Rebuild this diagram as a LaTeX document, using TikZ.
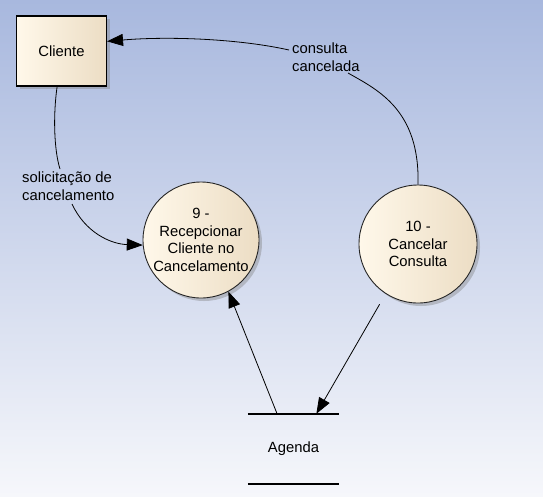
\documentclass[tikz,border=0pt]{standalone}
\usepackage{fontspec}
\setmainfont{Liberation Sans}
\usetikzlibrary{arrows.meta, shadows}

\definecolor{bgtop}{RGB}{168,184,222}
\definecolor{bgbot}{RGB}{246,247,251}
\definecolor{creamL}{RGB}{255,248,234}
\definecolor{creamR}{RGB}{236,221,196}

\begin{document}
\begin{tikzpicture}[x=1pt, y=-1pt,
  every node/.style={font=\fontsize{14.8}{17.5}\selectfont},
  shade/.style={drop shadow={shadow xshift=3pt, shadow yshift=-3pt, fill=black!50, opacity=0.4}},
  entity/.style={draw=black, line width=1.1pt, left color=creamL, right color=creamR,
    minimum width=90pt, minimum height=70pt, inner sep=0pt, shade},
  proc/.style={circle, draw=black!85, line width=0.9pt, left color=creamL, right color=creamR,
    inner sep=0pt, shade},
  flow/.style={line width=0.8pt, -{Triangle[length=16pt,width=12pt]}},
  lbl/.style={align=left, inner sep=0pt}]
% background
\useasboundingbox (0,0) rectangle (543,496);
\shade[top color=bgtop, bottom color=bgbot] (0,0) rectangle (543,496);

% external entity
\node[entity] (cliente) at (61.5,51) {Cliente};

% processes
\node[proc, minimum size=116pt] (p9) at (201,240) {};
\node[align=center, inner sep=0pt] (p9txt) at (p9) {9 -\\Recepcionar\\Cliente no\\Cancelamento};
\node[proc, minimum size=118pt] (p10) at (418,244) {};
\node[align=center, inner sep=0pt] (p10txt) at (p10) {10 -\\Cancelar\\Consulta};

% data store
\node[minimum width=91pt, minimum height=70pt, inner sep=0pt] (agenda) at (293.5,449) {Agenda};
\draw[line width=1.6pt] (agenda.north west) -- (agenda.north east);
\draw[line width=1.6pt] (agenda.south west) -- (agenda.south east);

% flow labels
\node[lbl, anchor=west] (lblcons) at (292,57) {consulta\\cancelada};
\node[lbl, anchor=west] (lblsol) at (22,186) {solicitação de\\cancelamento};
\coordinate (cc1) at (348,73);
\coordinate (cc2) at (289,50);
\coordinate (cs1) at (60,169);
\coordinate (cs2) at (72,204);

% flows
\draw[line width=0.8pt] (p10.north) .. controls (420,110) and (378,90) .. (cc1);
\draw[flow] (cc2) .. controls (240,39) and (170,36) .. (cliente.12);

\draw[line width=0.8pt] (cliente.-97) .. controls (53,115) and (54,150) .. (cs1);
\draw[flow] (cs2) .. controls (85,232) and (110,244) .. (p9.185);

\draw[flow] (agenda.115) -- (p9.-62);
\draw[flow, shorten <=12pt] (p10.-123) -- (agenda.57);
\end{tikzpicture}
\end{document}
